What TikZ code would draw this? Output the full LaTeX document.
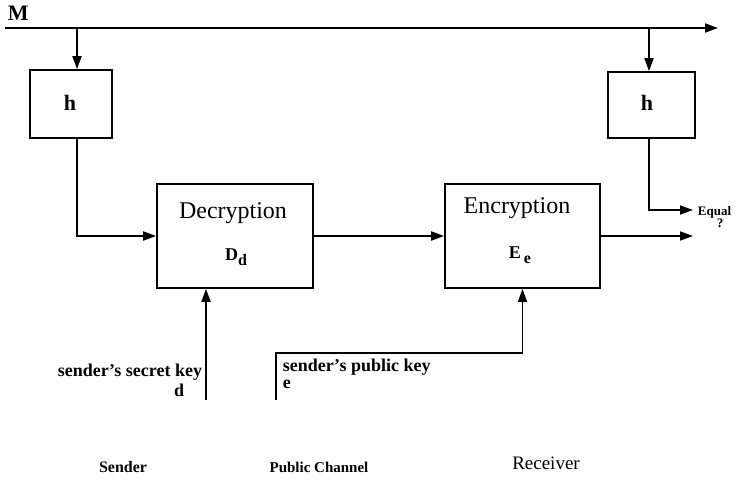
\documentclass[tikz,border=0pt]{standalone}
\usepackage{fontspec}
\setmainfont{Liberation Serif}
\usetikzlibrary{arrows.meta}
\newcommand{\fsz}[1]{\fontsize{#1}{#1}\selectfont}
\begin{document}
\begin{tikzpicture}[x=1pt, y=-1pt, line width=1.8pt,
    >={Triangle[length=13pt,width=9pt]},
    box/.style={draw, rectangle, inner sep=0pt},
    blbl/.style={font=\bfseries\fsz{18}, inner sep=0pt}]
    \useasboundingbox (0,0) rectangle (739,480);

    % Boxes
    \node[box, minimum width=82pt, minimum height=68pt] (hL) at (71,104) {};
    \node[box, minimum width=87pt, minimum height=66pt] (hR) at (651.5,105) {};
    \node[box, minimum width=156pt, minimum height=104pt] (dec) at (235,236) {};
    \node[box, minimum width=155pt, minimum height=104pt] (enc) at (522.5,236) {};

    % Box texts
    \node[font=\bfseries\fsz{22}, inner sep=0pt, anchor=base] (hLt) at (70,110) {h};
    \node[font=\bfseries\fsz{22}, inner sep=0pt, anchor=base] (hRt) at (647,110) {h};
    \node[font=\fsz{24}, inner sep=0pt, anchor=base] (dect) at (233,218) {Decryption};
    \node[blbl, anchor=base] (decs) at (236,260) {D\raisebox{-5pt}{\fsz{16}d}};
    \node[font=\fsz{24}, inner sep=0pt, anchor=base] (enct) at (517,213) {Encryption};
    \node[blbl, anchor=base] (encs) at (520,258) {E\,\raisebox{-5pt}{\fsz{16}e}};

    % Message line
    \node[font=\bfseries\fsz{22}, inner sep=0pt, anchor=base west] (msg) at (7,20) {M};
    \coordinate (mstart) at (5,28);
    \coordinate (mend) at (718,28);
    \coordinate (tapL) at (77,28);
    \coordinate (tapR) at (649,28);
    \draw[->] (mstart) -- (mend);
    \draw[->] (tapL) -- (tapL |- hL.north);
    \draw[->] (tapR) -- (tapR |- hR.north);

    % Signal path
    \draw[->] (tapL |- hL.south) -- (tapL |- dec.west) -- (dec.west);
    \draw[->] (dec.east) -- (enc.west);
    \coordinate (outE) at (693,236);
    \draw[->] (enc.east) -- (outE);
    \coordinate (eqin) at (693,210);
    \draw[->] (tapR |- hR.south) -- (tapR |- eqin) -- (eqin);
    \node[font=\bfseries\fsz{13}, inner sep=0pt, anchor=base west] (eq) at (697,215) {Equal};
    \node[font=\bfseries\fsz{13}, inner sep=0pt, anchor=base] (eqq) at (720,227) {?};

    % Keys
    \coordinate (skey) at (206,400);
    \draw[->] (skey) -- (skey |- dec.south);
    \node[blbl, anchor=base east] (skeyt) at (203,376) {sender's secret key};
    \node[blbl, anchor=base east] (skeyd) at (185,396) {d};
    \coordinate (pkey) at (276,400);
    \coordinate (pbend) at (276,353);
    \draw[->] (pkey) -- (pbend) -| (enc.south);
    \node[blbl, anchor=base west] (pkeyt) at (282,371) {sender's public key};
    \node[blbl, anchor=base west] (pkeye) at (282,388) {e};

    % Parties
    \node[font=\bfseries\fsz{16}, inner sep=0pt, anchor=base] (snd) at (123,472) {Sender};
    \node[font=\bfseries\fsz{15}, inner sep=0pt, anchor=base] (pub) at (319,472) {Public Channel};
    \node[font=\fsz{19}, inner sep=0pt, anchor=base] (rcv) at (546,469) {Receiver};
\end{tikzpicture}
\end{document}
